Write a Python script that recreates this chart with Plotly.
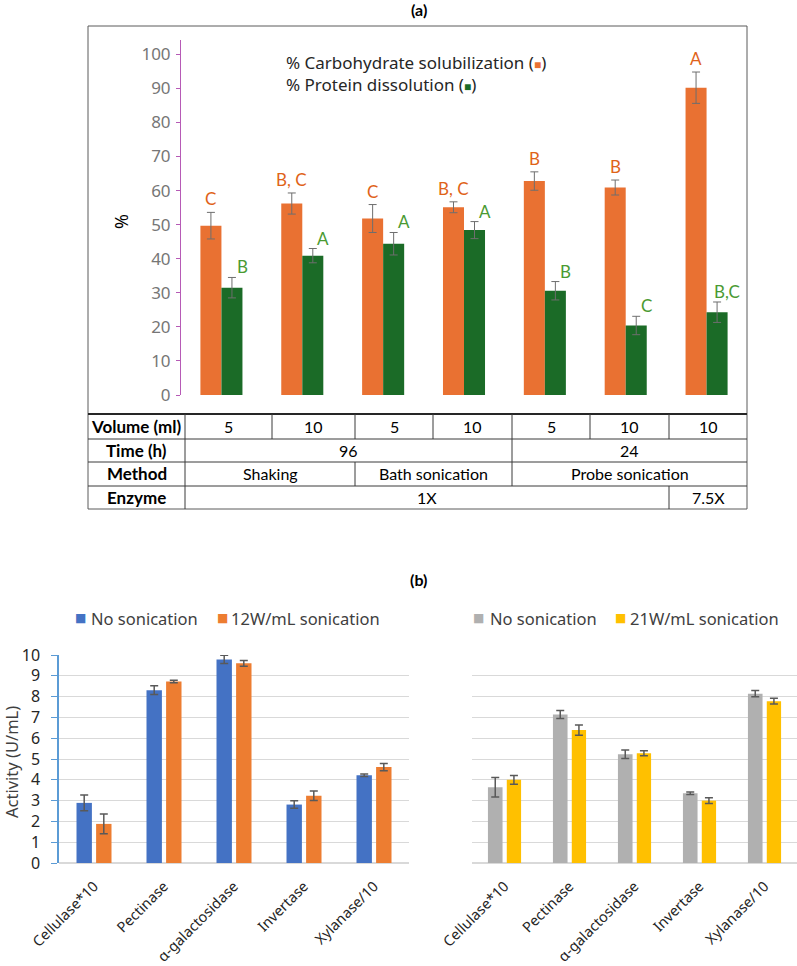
import plotly.graph_objects as go

W, H = 797, 966

# ---------------- Panel (a) data ----------------
conditions = ["S5", "S10", "B5", "B10", "P5", "P10", "P10x"]
carb = [49.7, 56.2, 51.8, 55.1, 62.8, 60.9, 90.2]
carb_err = [3.9, 3.1, 4.1, 1.6, 2.7, 2.2, 4.6]
prot = [31.5, 40.9, 44.4, 48.4, 30.6, 20.4, 24.3]
prot_err = [3.0, 2.1, 3.3, 2.5, 2.7, 2.7, 3.0]
carb_letters = ["C", "B, C", "C", "B, C", "B", "B", "A"]
prot_letters = ["B", "A", "A", "A", "B", "C", "B,C"]
a_ticks = [0, 10, 20, 30, 40, 50, 60, 70, 80, 90, 100]

table_labels = ["Volume (ml)", "Time (h)", "Method", "Enzyme"]
table_volume = [("5", 0, 1), ("10", 1, 2), ("5", 2, 3), ("10", 3, 4), ("5", 4, 5), ("10", 5, 6), ("10", 6, 7)]
table_time = [("96", 0, 4), ("24", 4, 7)]
table_method = [("Shaking", 0, 2), ("Bath sonication", 2, 4), ("Probe sonication", 4, 7)]
table_enzyme = [("1X", 0, 6), ("7.5X", 6, 7)]

# ---------------- Panel (b) data ----------------
enzymes = ["Cellulase*10", "Pectinase", "α-galactosidase", "Invertase", "Xylanase/10"]
nos_12 = [2.89, 8.31, 9.79, 2.81, 4.22]
nos_12_err = [0.38, 0.21, 0.20, 0.18, 0.06]
son_12 = [1.88, 8.73, 9.60, 3.23, 4.61]
son_12_err = [0.47, 0.06, 0.14, 0.23, 0.17]
nos_21 = [3.64, 7.14, 5.23, 3.35, 8.14]
nos_21_err = [0.47, 0.19, 0.20, 0.06, 0.15]
son_21 = [4.00, 6.39, 5.28, 3.00, 7.78]
son_21_err = [0.21, 0.25, 0.12, 0.14, 0.14]
b_ticks = list(range(0, 11))

# ---------------- helpers (pixel -> paper) ----------------
def px(x):
    return x / W

def py(y):
    return 1 - y / H

ORANGE_A = "#E97132"
GREEN_A = "#1B6B27"
ORANGE_TXT = "#DF6319"
GREEN_TXT = "#4A9A32"
BLUE = "#4472C4"
ORANGE_B = "#ED7D31"
GRAY = "#B0B0B0"
YELLOW = "#FFC000"
FONT = "Noto Sans"
TFONT = "Lato"

fig = go.Figure()

# Panel (a) bars
fig.add_trace(go.Bar(
    x=conditions, y=carb, name="% Carbohydrate solubilization",
    marker=dict(color=ORANGE_A, line=dict(width=0)),
    error_y=dict(type="data", array=carb_err, color="#6E6E6E", thickness=1, width=4),
    xaxis="x", yaxis="y", showlegend=False))
fig.add_trace(go.Bar(
    x=conditions, y=prot, name="% Protein dissolution",
    marker=dict(color=GREEN_A, line=dict(width=0)),
    error_y=dict(type="data", array=prot_err, color="#6E6E6E", thickness=1, width=4),
    xaxis="x", yaxis="y", showlegend=False))

# Panel (b) left
fig.add_trace(go.Bar(
    x=enzymes, y=nos_12, name="No sonication", width=0.22, offset=-0.25,
    marker=dict(color=BLUE, line=dict(width=0)),
    error_y=dict(type="data", array=nos_12_err, color="#595959", thickness=1.5, width=4),
    xaxis="x2", yaxis="y2", showlegend=False))
fig.add_trace(go.Bar(
    x=enzymes, y=son_12, name="12W/mL sonication", width=0.22, offset=0.03,
    marker=dict(color=ORANGE_B, line=dict(width=0)),
    error_y=dict(type="data", array=son_12_err, color="#595959", thickness=1.5, width=4),
    xaxis="x2", yaxis="y2", showlegend=False))

# Panel (b) right
fig.add_trace(go.Bar(
    x=enzymes, y=nos_21, name="No sonication", width=0.225, offset=-0.255,
    marker=dict(color=GRAY, line=dict(width=0)),
    error_y=dict(type="data", array=nos_21_err, color="#595959", thickness=1.5, width=4),
    xaxis="x3", yaxis="y3", showlegend=False))
fig.add_trace(go.Bar(
    x=enzymes, y=son_21, name="21W/mL sonication", width=0.22, offset=0.035,
    marker=dict(color=YELLOW, line=dict(width=0)),
    error_y=dict(type="data", array=son_21_err, color="#595959", thickness=1.5, width=4),
    xaxis="x3", yaxis="y3", showlegend=False))

annotations = []

def paper_text(text, x, y, size, color="#000", family=FONT, xanchor="center", angle=0):
    annotations.append(dict(text=text, x=px(x), y=py(y), xref="paper", yref="paper",
                            xanchor=xanchor, yanchor="middle", textangle=angle, showarrow=False,
                            font=dict(family=family, size=size, color=color)))

# titles
paper_text("<b>(a)</b>", 419, 10, 16, family=TFONT)
paper_text("<b>(b)</b>", 419, 579, 16, family=TFONT)

# panel (a) legend-like text
sq_a1 = '<span style="color:' + ORANGE_A + ';font-size:12px">■</span>'
sq_a2 = '<span style="color:' + GREEN_A + ';font-size:12px">■</span>'
paper_text("% Carbohydrate solubilization (" + sq_a1 + ")", 284, 63, 17, "#262626", xanchor="left")
paper_text("% Protein dissolution (" + sq_a2 + ")", 284, 85, 17, "#262626", xanchor="left")

# "%" axis title
paper_text("%", 121, 222, 18, "#000", angle=-90)

# significance letters
for i, (v, e, t) in enumerate(zip(carb, carb_err, carb_letters)):
    annotations.append(dict(text=t, x=i - 0.13, y=v + e, xref="x", yref="y",
                            xanchor="center", yanchor="bottom", yshift=1, showarrow=False,
                            font=dict(family=TFONT, size=17, color=ORANGE_TXT)))
for i, (v, e, t) in enumerate(zip(prot, prot_err, prot_letters)):
    annotations.append(dict(text=t, x=i + 0.255, y=v + e, xref="x", yref="y",
                            xanchor="center", yanchor="bottom", yshift=-2, showarrow=False,
                            font=dict(family=TFONT, size=17, color=GREEN_TXT)))

# ---------------- table ----------------
cols = [185, 272, 355, 433, 512, 590, 669, 747]
rows = [414, 439, 462, 486, 509]
shapes = []
LC = "#3A3A3A"
shapes.append(dict(type="rect", xref="paper", yref="paper", x0=px(88), x1=px(747), y0=py(26), y1=py(509),
                   line=dict(color="#5A5A5A", width=1)))
shapes.append(dict(type="line", xref="paper", yref="paper", x0=px(88), x1=px(747), y0=py(414), y1=py(414),
                   line=dict(color="#262626", width=2)))
for r in rows[1:4]:
    shapes.append(dict(type="line", xref="paper", yref="paper", x0=px(88), x1=px(747), y0=py(r), y1=py(r),
                       line=dict(color=LC, width=1)))
shapes.append(dict(type="line", xref="paper", yref="paper", x0=px(185), x1=px(185), y0=py(414), y1=py(509),
                   line=dict(color=LC, width=1)))

table_rows = [table_volume, table_time, table_method, table_enzyme]
for ri, (label, cells) in enumerate(zip(table_labels, table_rows)):
    ytop, ybot = rows[ri], rows[ri + 1]
    ymid = (ytop + ybot) / 2
    paper_text("<b>" + label + "</b>", (88 + 185) / 2, ymid, 17, family=TFONT)
    for text, c0, c1 in cells:
        paper_text(text, (cols[c0] + cols[c1]) / 2, ymid, 16, family=TFONT)
        if c1 < 7:
            shapes.append(dict(type="line", xref="paper", yref="paper", x0=px(cols[c1]), x1=px(cols[c1]),
                               y0=py(ytop), y1=py(ybot), line=dict(color=LC, width=1)))

# ---------------- panel (b) legends ----------------
def legend_item(xsq, xtxt, color, label):
    paper_text("■", xsq, 618, 12, color, family="DejaVu Sans")
    paper_text(label, xtxt, 618, 16.5, "#404040", xanchor="left")

legend_item(80, 89, BLUE, "No sonication")
legend_item(222, 229, ORANGE_B, "12W/mL sonication")
legend_item(478, 488, GRAY, "No sonication")
legend_item(620, 628, YELLOW, "21W/mL sonication")

paper_text("Activity (U/mL)", 11, 762, 16.5, "#404040", angle=-90)

fig.update_layout(
    width=W, height=H, margin=dict(l=0, r=0, t=0, b=0, pad=0, autoexpand=False),
    paper_bgcolor="white", plot_bgcolor="white",
    barmode="group", bargap=0.48, bargroupgap=0,
    showlegend=False,
    annotations=annotations, shapes=shapes,
    xaxis=dict(domain=[px(181), px(747)], anchor="y", showticklabels=False, ticks="",
               showline=False, showgrid=False, zeroline=False, range=[-0.5, 6.5]),
    yaxis=dict(domain=[py(395), py(40)], anchor="x", range=[0, 104.2], tickvals=a_ticks,
               showgrid=False, zeroline=False, showline=True, linecolor="#B65AB6", linewidth=1,
               ticks="outside", ticklen=4, tickcolor="#B65AB6", ticklabelstandoff=2,
               tickfont=dict(family=FONT, size=17, color="#767676")),
    xaxis2=dict(domain=[px(59), px(409)], anchor="y2", showgrid=False, zeroline=False,
                showline=False, ticks="", tickangle=-45, range=[-0.5, 4.5], ticklabelstandoff=11,
                tickfont=dict(family=FONT, size=14.5, color="#262626")),
    yaxis2=dict(domain=[py(863), py(655)], anchor="x2", range=[0, 10.001], tickvals=b_ticks,
                showgrid=True, gridcolor="#D9D9D9", gridwidth=1, zeroline=True, zerolinecolor="#D9D9D9",
                showline=True, linecolor="#5B9BD5", linewidth=1.5, ticks="outside", ticklen=6,
                tickcolor="#5B9BD5", ticklabelstandoff=8,
                tickfont=dict(family=FONT, size=16, color="#262626")),
    xaxis3=dict(domain=[px(472), px(797)], anchor="y3", showgrid=False, zeroline=False,
                showline=False, ticks="", tickangle=-45, range=[-0.5, 4.5], ticklabelstandoff=11,
                tickfont=dict(family=FONT, size=14.5, color="#262626")),
    yaxis3=dict(domain=[py(863), py(655)], anchor="x3", range=[0, 10.001], tickvals=b_ticks,
                showgrid=True, gridcolor="#D9D9D9", gridwidth=1, zeroline=True, zerolinecolor="#D9D9D9",
                showline=False, showticklabels=False, ticks=""),
)

fig.write_html("out.html")
